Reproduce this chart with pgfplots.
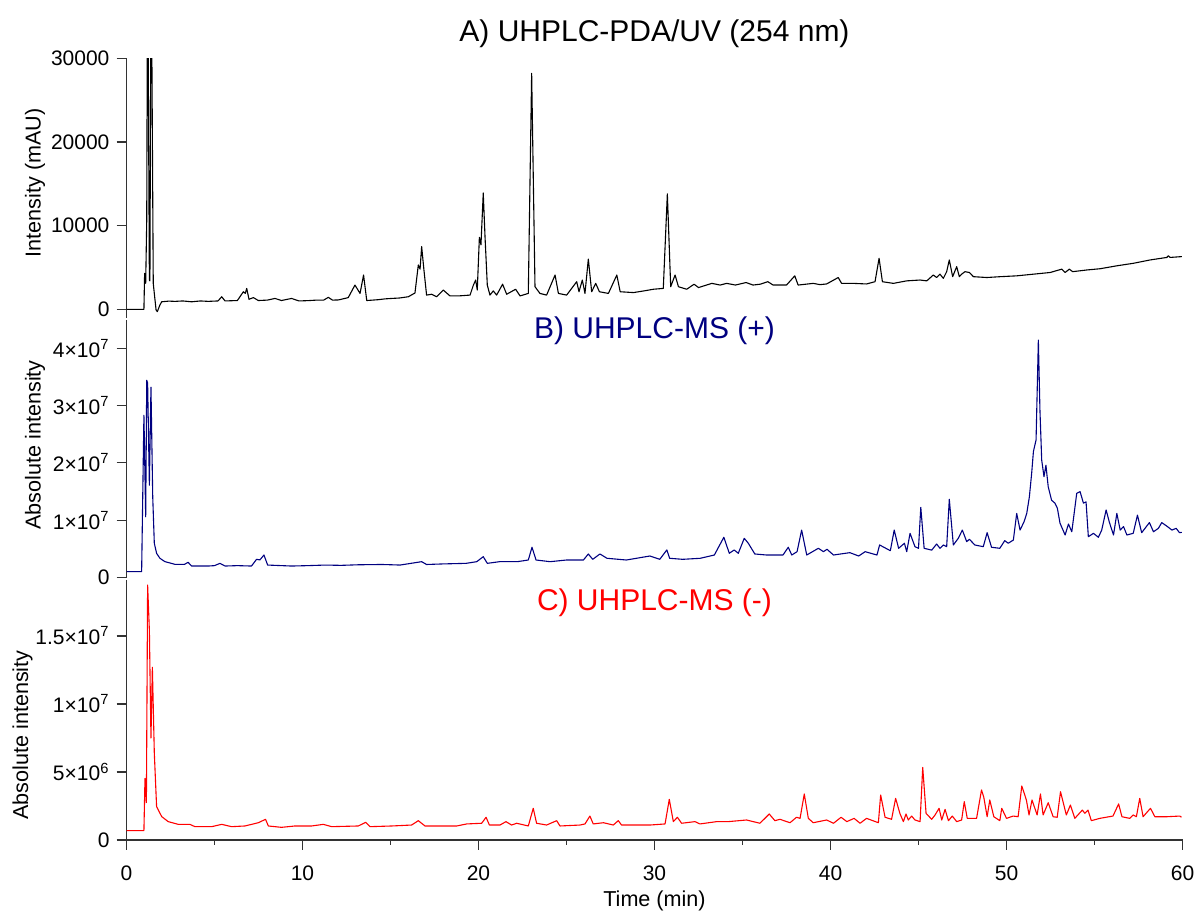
\documentclass[border=0pt]{standalone}
\usepackage{fontspec}
\setmainfont{Liberation Sans}
\usepackage{pgfplots}
\pgfplotsset{compat=1.18}
\definecolor{msblue}{RGB}{0,0,128}
\definecolor{msred}{RGB}{255,0,0}
\pgfplotsset{
  chrom/.style={
    scale only axis, width=528pt, xmin=0, xmax=60,
    axis y line*=left, tick align=outside, ytick pos=left,
    major tick length=5pt, minor tick length=2.5pt,
    every tick/.style={black!80, line width=0.6pt},
    axis line style={black!80, line width=0.6pt},
    tick label style={font=\fontsize{10.5}{12}\selectfont},
    label style={font=\fontsize{10.8}{13}\selectfont},
    every axis title shift=0pt,
    title style={font=\fontsize{15}{18}\selectfont, anchor=base},
    scaled y ticks=false, clip=true,
    anchor=south west,
  },
  trace/.style={line width=0.55pt, line join=round},
}
\begin{document}
\begin{tikzpicture}
\useasboundingbox (0,0) rectangle (599pt,456.5pt);

% A) UV trace
\begin{axis}[chrom, at={(63.25pt,297.65pt)}, height=129.7pt,
  ymin=-1000, ymax=30000, axis x line=none, xtick=\empty,
  ytick={0,10000,20000,30000}, yticklabels={0,10000,20000,30000},
  ylabel={Intensity (mAU)},
  ylabel style={at={(axis description cs:-0.0866,0.52)}, anchor=center},
  title={A) UHPLC-PDA/UV (254 nm)},
  title style={at={(axis description cs:0.5,1.063)}}]
\addplot[trace, black] coordinates {
(0,0) (0.99,0) (1.03,4300) (1.09,3100) (1.15,10700) (1.2,45000) (1.3,3500) (1.33,3400) (1.4,45000) (1.52,3100) (1.68,-80) (1.75,-280) (1.9,520) (2.0,900) (2.4,980) (2.76,950) (3.2,1000) (3.7,900) (4.2,1000) (4.65,950) (5.2,1000) (5.41,1500) (5.6,1000) (6.3,1050) (6.64,2100) (6.75,1900) (6.83,2500) (6.96,1200) (7.21,1400) (7.49,1050) (8.0,1100) (8.44,1300) (8.8,1050) (9.38,1300) (9.8,1000) (10.33,1040) (10.8,1100) (11.2,1100) (11.47,1430) (11.7,1100) (12.04,1120) (12.6,1400) (12.98,2900) (13.27,1900) (13.47,4100) (13.65,1050) (14.3,1150) (14.7,1250) (15.07,1300) (15.5,1350) (16.01,1500) (16.39,1950) (16.58,5300) (16.68,4800) (16.77,7500) (16.9,4700) (17.05,1700) (17.34,1800) (17.62,1500) (18.0,2300) (18.38,1600) (18.85,1600) (19.2,1650) (19.52,1700) (19.71,2900) (19.84,3500) (19.93,2300) (20.05,8600) (20.14,7700) (20.27,13900) (20.37,8700) (20.5,2900) (20.65,1700) (20.84,2200) (21.03,1700) (21.37,3000) (21.6,1800) (22.11,2400) (22.36,1600) (22.83,1900) (23.02,28200) (23.21,2700) (23.49,1900) (23.87,1700) (24.35,4100) (24.54,1900) (25.01,1700) (25.58,3300) (25.71,2100) (25.9,3500) (26.05,1900) (26.24,6000) (26.43,2100) (26.66,3100) (26.87,2100) (27.38,1900) (27.86,4100) (28.05,2100) (28.8,2000) (29.4,2200) (29.94,2400) (30.5,2500) (30.73,13800) (30.92,2700) (31.17,4100) (31.36,2700) (31.83,2400) (32.25,3000) (32.5,2600) (33.26,3100) (33.73,2900) (34.1,3100) (34.6,2900) (35.2,3200) (35.6,2900) (36.0,3000) (36.44,3300) (36.74,2900) (37.5,2900) (37.97,4000) (38.16,2900) (39.02,3100) (39.4,2950) (39.78,3030) (40.44,3800) (40.63,3100) (41.3,3100) (42.05,3030) (42.53,3300) (42.76,6100) (42.95,3300) (43.57,3100) (44.33,3400) (45.09,3500) (45.47,3400) (45.84,4100) (46.03,3800) (46.22,4200) (46.41,3700) (46.6,4500) (46.75,5900) (46.94,3900) (47.17,5100) (47.32,3900) (47.45,4200) (47.64,4500) (47.89,4400) (48.12,3900) (48.88,3800) (49.64,3900) (50.58,4000) (51.53,4200) (52.48,4400) (53.14,4800) (53.33,4400) (53.57,4800) (53.76,4500) (54.56,4700) (55.32,4850) (56.27,5200) (57.21,5500) (58.16,5900) (59.11,6200) (59.2,6400) (59.3,6200) (59.96,6300)
};
\end{axis}

% B) MS positive
\begin{axis}[chrom, at={(63.25pt,167.65pt)}, height=128.85pt,
  ymin=0, ymax=4.49e7, axis x line=none, xtick=\empty,
  ytick={0,1e7,2e7,3e7,4e7},
  yticklabels={0,1×10\textsuperscript{7},2×10\textsuperscript{7},3×10\textsuperscript{7},4×10\textsuperscript{7}},
  ylabel={Absolute intensity},
  ylabel style={at={(axis description cs:-0.0866,0.515)}, anchor=center},
  title={B) UHPLC-MS (+)},
  title style={at={(axis description cs:0.5,0.930)}, text=msblue}]
\addplot[trace, msblue] coordinates {
(0,1.05e6) (0.86,1.05e6) (0.99,2.83e7) (1.09,1.06e7) (1.15,3.44e7) (1.2,3.39e7) (1.3,1.61e7) (1.39,3.32e7) (1.49,1.41e7) (1.58,6.0e6) (1.71,4.25e6) (1.9,3.38e6) (2.18,2.8e6) (2.75,2.33e6) (3.3,2.33e6) (3.5,2.68e6) (3.7,2.03e6) (4.65,2.03e6) (5.0,2.1e6) (5.31,2.5e6) (5.6,2.03e6) (6.3,2.1e6) (7.1,2.03e6) (7.39,3.2e6) (7.58,3.1e6) (7.81,3.95e6) (8.02,2.2e6) (9.38,2.03e6) (10.3,2.1e6) (11.28,2.2e6) (12.2,2.15e6) (13.17,2.25e6) (14.5,2.3e6) (15.07,2.25e6) (15.54,2.2e6) (16.77,2.79e6) (17.05,2.3e6) (18.0,2.4e6) (19.3,2.5e6) (19.9,2.79e6) (20.27,3.66e6) (20.5,2.5e6) (21.2,2.79e6) (22.2,2.79e6) (22.83,3.08e6) (23.04,5.3e6) (23.27,3.08e6) (24.07,2.79e6) (25.0,3.08e6) (25.96,3.08e6) (26.24,4.13e6) (26.49,3.2e6) (26.9,4.13e6) (27.3,3.38e6) (28.4,3.08e6) (29.74,3.78e6) (30.3,3.2e6) (30.7,4.83e6) (30.86,3.38e6) (31.6,3.2e6) (32.6,3.38e6) (33.4,3.95e6) (33.94,7.04e6) (34.25,4.25e6) (34.53,4.83e6) (34.76,4.25e6) (35.1,6.86e6) (35.33,6.0e6) (35.7,4.13e6) (36.37,3.95e6) (37.3,3.95e6) (37.6,5.3e6) (37.8,3.95e6) (38.1,4.53e6) (38.36,8.3e6) (38.65,3.95e6) (39.31,5.12e6) (39.6,4.53e6) (39.8,4.95e6) (40.17,3.95e6) (41.1,4.36e6) (41.6,3.78e6) (41.97,4.53e6) (42.64,3.95e6) (42.79,5.7e6) (43.4,4.7e6) (43.62,8.3e6) (43.87,5.12e6) (44.2,6.0e6) (44.33,4.53e6) (44.52,7.73e6) (44.8,5.4e6) (45.0,5.12e6) (45.13,1.226e7) (45.32,5.12e6) (45.75,4.8e6) (46.03,5.87e6) (46.22,5.12e6) (46.41,5.7e6) (46.6,5.4e6) (46.75,1.366e7) (46.98,5.7e6) (47.26,6.86e6) (47.49,8.3e6) (47.74,6.27e6) (47.89,6.7e6) (48.2,5.7e6) (48.68,5.4e6) (48.9,7.84e6) (49.15,5.3e6) (49.62,5.12e6) (49.9,6.45e6) (50.1,6.0e6) (50.39,6.56e6) (50.58,1.12e7) (50.77,8.3e6) (51.0,9.76e6) (51.15,1.12e7) (51.3,1.41e7) (51.43,1.82e7) (51.53,2.2e7) (51.68,2.4e7) (51.81,4.14e7) (51.9,2.92e7) (52.0,2.05e7) (52.13,1.76e7) (52.24,1.96e7) (52.37,1.585e7) (52.56,1.35e7) (52.75,1.3e7) (52.89,1.21e7) (53.04,9.5e6) (53.33,7.44e6) (53.52,9.35e6) (53.71,8.0e6) (53.99,1.47e7) (54.18,1.5e7) (54.37,1.3e7) (54.52,1.32e7) (54.65,7.14e6) (54.94,7.73e6) (55.22,7.04e6) (55.41,8.3e6) (55.66,1.18e7) (55.85,9.6e6) (56.08,7.44e6) (56.27,1.12e7) (56.46,8.3e6) (56.65,8.9e6) (56.84,7.44e6) (57.2,7.73e6) (57.44,1.09e7) (57.68,7.84e6) (58.12,9.6e6) (58.35,8.0e6) (58.63,8.6e6) (58.82,9.6e6) (59.1,9.0e6) (59.4,8.3e6) (59.64,8.6e6) (59.83,7.84e6) (59.96,7.9e6)
};
\end{axis}

% C) MS negative
\begin{axis}[chrom, at={(63.25pt,36.5pt)}, height=129.9pt,
  ymin=0, ymax=1.91e7, axis x line*=bottom, xtick pos=bottom,
  xtick={0,10,20,30,40,50,60}, xticklabels={0,10,20,30,40,50,60},
  xticklabel style={yshift=-4.5pt},
  minor x tick num=1,
  ytick={0,5e6,1e7,1.5e7},
  yticklabels={0,5×10\textsuperscript{6},1×10\textsuperscript{7},1.5×10\textsuperscript{7}},
  xlabel={Time (min)},
  xlabel style={at={(axis description cs:0.5,0)}, anchor=base, yshift=-33.35pt},
  ylabel={Absolute intensity},
  ylabel style={at={(axis description cs:-0.0985,0.404)}, anchor=center},
  title={C) UHPLC-MS (-)},
  title style={at={(axis description cs:0.5,0.885)}, text=msred}]
\addplot[trace, msred] coordinates {
(0,6.9e5) (0.99,6.9e5) (1.05,4.53e6) (1.13,2.75e6) (1.2,1.875e7) (1.3,1.54e7) (1.39,7.5e6) (1.47,1.27e7) (1.58,6.4e6) (1.71,2.45e6) (2.0,1.72e6) (2.37,1.35e6) (2.94,1.15e6) (3.6,1.15e6) (3.89,9.8e5) (4.84,9.8e5) (5.41,1.15e6) (5.97,9.8e5) (6.73,1.03e6) (7.49,1.27e6) (7.9,1.52e6) (8.06,1.03e6) (8.81,9.3e5) (9.57,1.03e6) (10.52,1.03e6) (11.18,1.15e6) (11.66,9.8e5) (13.17,1.03e6) (13.59,1.3e6) (13.84,9.8e5) (15.07,1.03e6) (16.2,1.1e6) (16.58,1.42e6) (16.96,1.03e6) (18.76,1.03e6) (19.33,1.18e6) (20.18,1.23e6) (20.43,1.67e6) (20.62,1.1e6) (21.22,1.1e6) (21.56,1.35e6) (21.88,1.1e6) (22.17,1.23e6) (22.83,1.03e6) (23.11,2.33e6) (23.3,1.23e6) (23.87,1.1e6) (24.44,1.42e6) (24.63,1.03e6) (25.77,1.1e6) (26.05,1.18e6) (26.33,1.76e6) (26.52,1.18e6) (27.1,1.27e6) (27.66,1.1e6) (27.94,1.42e6) (28.13,1.1e6) (29.74,1.1e6) (30.6,1.18e6) (30.84,2.99e6) (31.07,1.35e6) (31.3,1.67e6) (31.54,1.23e6) (32.3,1.35e6) (32.58,1.18e6) (33.53,1.35e6) (34.19,1.35e6) (35.23,1.47e6) (35.99,1.23e6) (36.52,1.91e6) (36.84,1.42e6) (37.13,1.52e6) (37.7,1.27e6) (38.07,1.67e6) (38.27,1.59e6) (38.51,3.38e6) (38.74,1.59e6) (39.02,1.27e6) (39.78,1.47e6) (40.17,1.23e6) (40.6,1.67e6) (40.93,1.35e6) (41.34,1.59e6) (41.68,1.23e6) (42.05,1.59e6) (42.72,1.27e6) (42.85,3.31e6) (43.1,1.67e6) (43.47,1.52e6) (43.7,3.06e6) (43.94,1.96e6) (44.14,1.35e6) (44.29,1.91e6) (44.42,1.47e6) (44.61,1.76e6) (44.8,1.47e6) (45.09,1.35e6) (45.24,5.34e6) (45.43,1.96e6) (45.75,1.52e6) (45.94,1.84e6) (46.17,2.33e6) (46.32,1.47e6) (46.51,2.25e6) (46.7,1.42e6) (46.92,1.76e6) (47.17,1.35e6) (47.45,1.47e6) (47.6,2.82e6) (47.77,1.59e6) (48.3,1.59e6) (48.58,3.68e6) (48.71,3.14e6) (48.9,1.71e6) (49.05,2.94e6) (49.28,1.71e6) (49.62,1.42e6) (49.73,2.33e6) (50.0,1.59e6) (50.38,1.76e6) (50.66,1.71e6) (50.87,3.97e6) (51.13,2.94e6) (51.28,1.84e6) (51.45,2.94e6) (51.74,1.84e6) (51.93,3.38e6) (52.08,1.84e6) (52.37,2.74e6) (52.65,1.71e6) (52.88,1.67e6) (53.07,3.55e6) (53.4,1.84e6) (53.63,2.57e6) (53.88,1.59e6) (54.31,2.2e6) (54.45,1.96e6) (54.63,2.2e6) (54.82,1.42e6) (55.3,1.59e6) (56.05,1.76e6) (56.37,2.65e6) (56.56,1.71e6) (57.0,1.59e6) (57.2,1.84e6) (57.38,1.71e6) (57.57,3.06e6) (57.76,1.71e6) (58.18,2.33e6) (58.43,1.71e6) (59.1,1.71e6) (59.85,1.76e6) (59.94,1.67e6)
};
\end{axis}
\end{tikzpicture}
\end{document}
